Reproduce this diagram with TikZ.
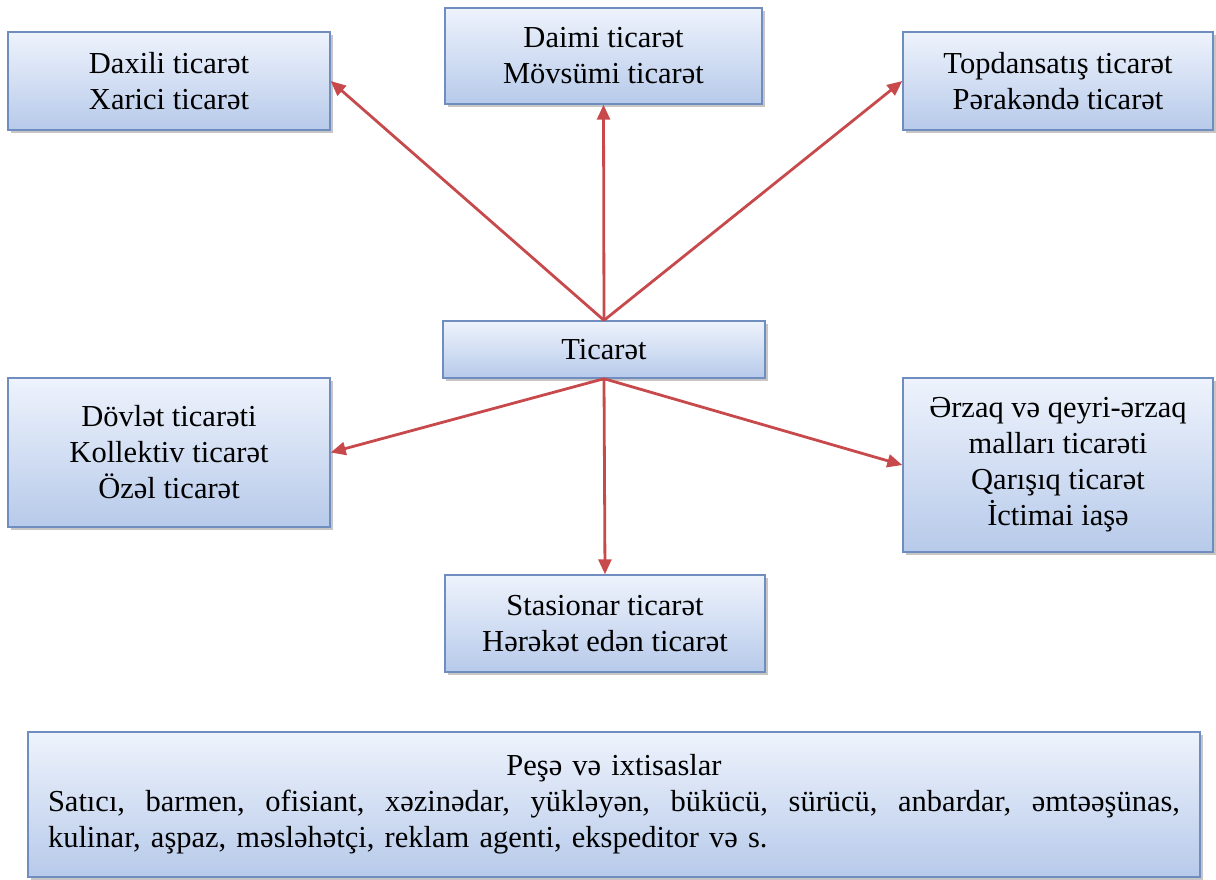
\documentclass[tikz,border=0pt]{standalone}
\usepackage{fontspec}
\setmainfont{Liberation Serif}
\usetikzlibrary{arrows.meta,shadows}
\definecolor{boxtop}{HTML}{EEF3FC}
\definecolor{boxbot}{HTML}{B7CAEA}
\definecolor{boxline}{HTML}{6F8DBE}
\definecolor{arrowred}{HTML}{C8494B}

\begin{document}
\begin{tikzpicture}[x=1pt,y=-1pt,
  tbox/.style={draw=boxline, line width=1.4pt, top color=boxtop, bottom color=boxbot,
    drop shadow={shadow xshift=3pt, shadow yshift=-3pt, opacity=0.45},
    inner sep=0pt, align=center, font=\fontsize{30.5}{36}\selectfont},
  tarrow/.style={draw=arrowred, line width=2.8pt, -{Triangle[length=15pt,width=13pt]}}]
\useasboundingbox (0,0) rectangle (1216,879);
% upper row
\node[tbox, minimum width=322, minimum height=98] (daxili) at (169,81) {Daxili ticarət\\Xarici ticarət};
\node[tbox, minimum width=317, minimum height=96] (daimi) at (603.5,56) {Daimi ticarət\\Mövsümi ticarət};
\node[tbox, minimum width=310, minimum height=98] (topdan) at (1058,81) {Topdansatış ticarət\\Pərakəndə ticarət};
% centre
\node[tbox, minimum width=322, minimum height=57] (ticaret) at (604,349.5) {Ticarət};
% lower row
\node[tbox, minimum width=322, minimum height=149] (dovlet) at (169,452.5) {Dövlət ticarəti\\Kollektiv ticarət\\Özəl ticarət};
\node[tbox, minimum width=310, minimum height=174] (erzaq) at (1058,465) {Ərzaq və qeyri-ərzaq\\malları ticarəti\\Qarışıq ticarət\\İctimai iaşə};
\node[tbox, minimum width=320, minimum height=97] (stasionar) at (605,623.5) {Stasionar ticarət\\Hərəkət edən ticarət};
% professions
\node[tbox, minimum width=1172, minimum height=145, text width=1132, align=left] (pese) at (614,804.5)
  {\makebox[\linewidth]{Peşə və ixtisaslar}\\
   \makebox[\linewidth][s]{Satıcı,\hfill barmen,\hfill ofisiant,\hfill xəzinədar,\hfill yükləyən,\hfill bükücü,\hfill sürücü,\hfill anbardar,\hfill əmtəəşünas,}\\
   kulinar, aşpaz, məsləhətçi, reklam agenti, ekspeditor və s.};
% arrows
\draw[tarrow] (ticaret.north) -- (daxili.east);
\draw[tarrow] (ticaret.north) -- (daimi.south);
\draw[tarrow] (ticaret.north) -- (topdan.west);
\draw[tarrow] (ticaret.south) -- (dovlet.east);
\draw[tarrow] (ticaret.south) -- (erzaq.west);
\draw[tarrow] (ticaret.south) -- (stasionar.north);
\end{tikzpicture}
\end{document}
